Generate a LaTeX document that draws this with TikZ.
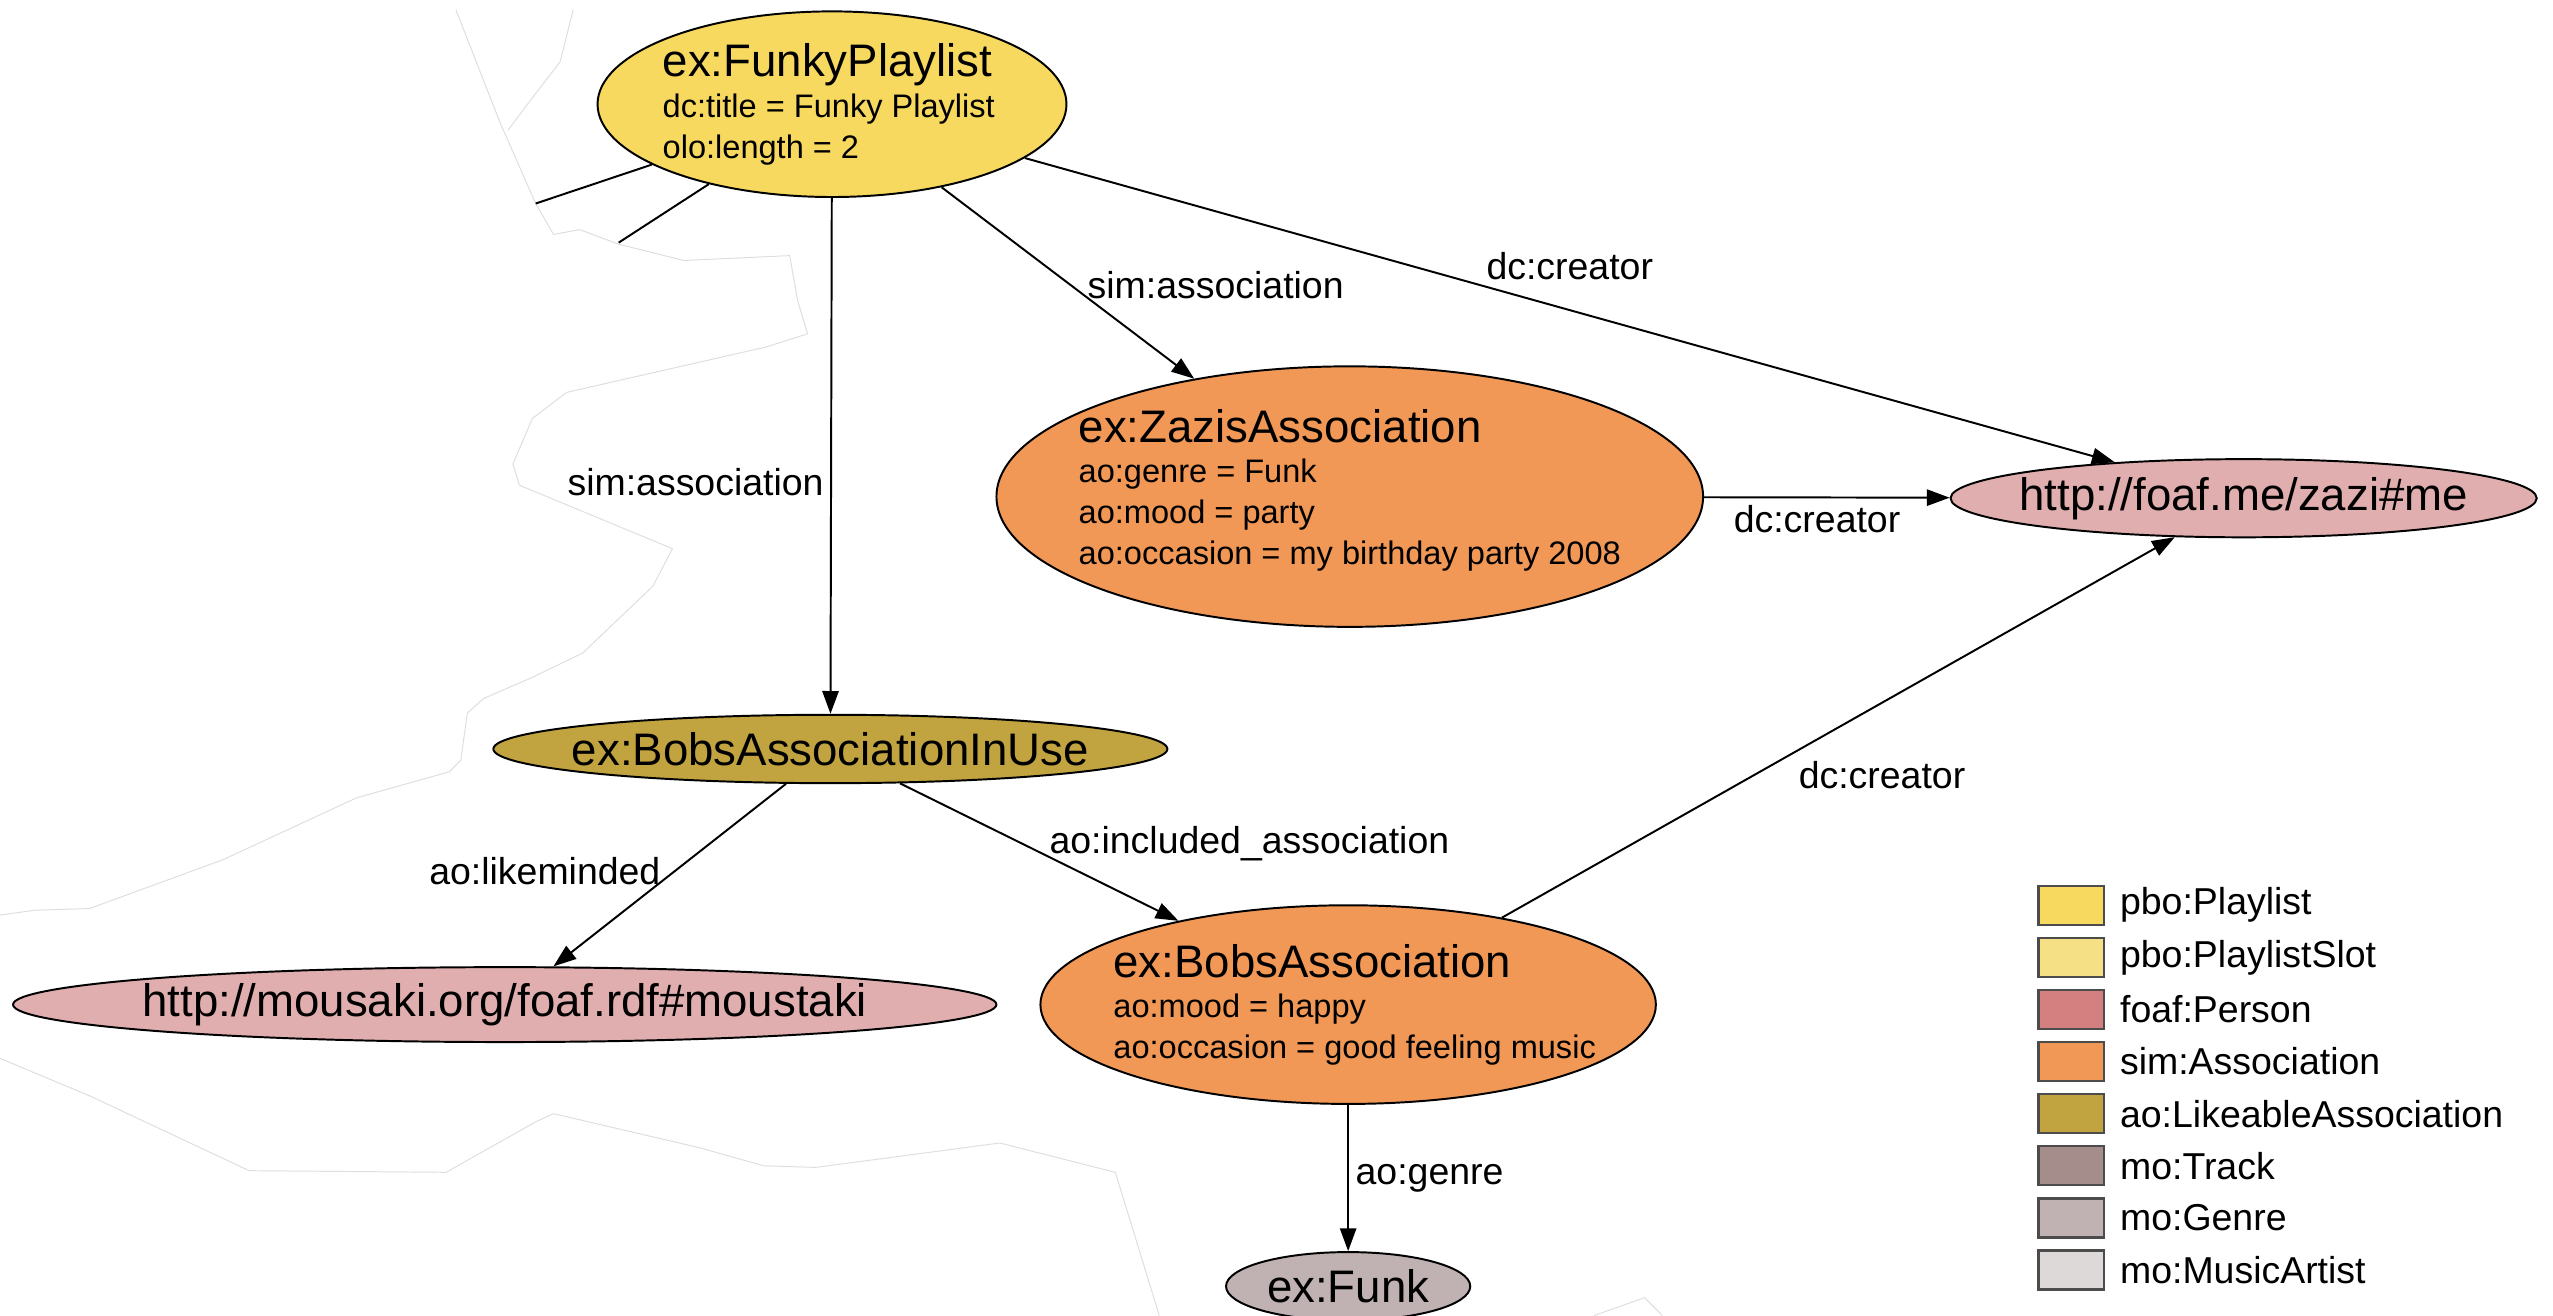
\documentclass[tikz,border=0pt]{standalone}
\usepackage{fontspec}
\setmainfont{Liberation Sans}
\usetikzlibrary{shapes.geometric, arrows.meta, positioning}

\definecolor{playlist}{RGB}{247,217,96}
\definecolor{playlistslot}{RGB}{245,224,134}
\definecolor{person}{RGB}{212,128,128}
\definecolor{personnode}{RGB}{224,174,174}
\definecolor{association}{RGB}{241,152,86}
\definecolor{likeable}{RGB}{193,163,64}
\definecolor{track}{RGB}{164,141,139}
\definecolor{genre}{RGB}{192,178,178}
\definecolor{artist}{RGB}{221,217,217}

\newcommand{\bignodefont}{\fontsize{14}{16}\selectfont}
\newcommand{\attrfont}{\fontsize{10}{12.5}\selectfont}
\newcommand{\edgefont}{\fontsize{11.5}{13}\selectfont}

\begin{document}
\begin{tikzpicture}[x=0.5pt, y=-0.5pt,
		resource/.style={ellipse, draw, line width=0.6pt, inner sep=0pt},
		nodetext/.style={font=\bignodefont, inner sep=0pt},
		attrtext/.style={font=\attrfont, align=left, inner sep=0pt},
		plain/.style={draw, line width=0.6pt},
		link/.style={plain, -{Triangle[length=7pt, width=5pt]}},
		edgelabel/.style={font=\edgefont, inner sep=2pt},
		cutline/.style={draw=black!13, line width=0.3pt},
		legendbox/.style={draw=black!70, line width=0.7pt, minimum width=20pt, minimum height=12pt, inner sep=0pt},
		legendtext/.style={font=\edgefont, inner sep=0pt}]
		\useasboundingbox (0,0) rectangle (1568,808);

		\draw[cutline] (280,6) -- (307,75) -- (329,125) -- (340,144) -- (356,141) -- (380,150) -- (420,160) -- (485,157) -- (490,185) -- (496,205) -- (471,213) -- (348,241) -- (327,257) -- (315,285) -- (319,298) -- (413,337) -- (401,360) -- (358,401) -- (327,416) -- (297,429) -- (287,438) -- (283,467) -- (276,474) -- (219,490) -- (137,528) -- (55,558) -- (22,559) -- (0,562);
		\draw[cutline] (352,6) -- (344,38) -- (327,60) -- (312,80);
		\draw[cutline] (0,650) -- (55,673) -- (153,719) -- (274,720) -- (329,689) -- (340,684) -- (430,705) -- (469,716) -- (501,717) -- (614,702) -- (685,720) -- (712,808);
		\draw[cutline] (979,808) -- (1010,797) -- (1021,808);

		\node[resource, fill=playlist, minimum width=144pt, minimum height=57pt] (funky) at (511,64) {};
		\node[attrtext] (funkytext) at ([xshift=-1pt]funky.center) {{\bignodefont ex:FunkyPlaylist}\\dc:title = Funky Playlist\\olo:length = 2};

		\node[resource, fill=association, minimum width=217pt, minimum height=80pt] (zazis) at (829,305) {};
		\node[attrtext] (zazistext) at ([yshift=2pt]zazis.center) {{\bignodefont ex:ZazisAssociation}\\ao:genre = Funk\\ao:mood = party\\ao:occasion = my birthday party 2008};

		\node[resource, fill=personnode, minimum width=180pt, minimum height=24pt] (zazi) at (1378,306) {};
		\node[nodetext] (zazitext) at (zazi) {http://foaf.me/zazi\#me};

		\node[resource, fill=likeable, minimum width=207pt, minimum height=21pt] (bobsinuse) at (510,460) {};
		\node[nodetext] (bobsinusetext) at (bobsinuse) {ex:BobsAssociationInUse};

		\node[resource, fill=personnode, minimum width=302pt, minimum height=23pt] (moustaki) at (310,617) {};
		\node[nodetext] (moustakitext) at (moustaki) {http://mousaki.org/foaf.rdf\#moustaki};

		\node[resource, fill=association, minimum width=189pt, minimum height=61pt] (bobs) at (828,617) {};
		\node[attrtext] (bobstext) at ([xshift=2pt]bobs.center) {{\bignodefont ex:BobsAssociation}\\ao:mood = happy\\ao:occasion = good feeling music};

		\node[resource, fill=genre, minimum width=75pt, minimum height=21pt] (funk) at (828,790) {};
		\node[nodetext] (funktext) at (funk) {ex:Funk};

		\coordinate (lostA) at (329,125);
		\coordinate (lostB) at (380,149);
		\draw[plain] (funky) -- (lostA);
		\draw[plain] (funky) -- (lostB);

		\draw[link] (funky) -- node[edgelabel, left, pos=0.55] (lblinuse) {sim:association} (bobsinuse);
		\draw[link] (funky) -- node[edgelabel, right=3pt, pos=0.51] (lblzazis) {sim:association} (zazis);
		\draw[link] (funky) -- node[edgelabel, above=7pt, pos=0.5] (lblcreatorA) {dc:creator} (zazi);
		\draw[link] (zazis) -- node[edgelabel, below, pos=0.46] (lblcreatorB) {dc:creator} (zazi);
		\draw[link] (bobs) -- node[edgelabel, anchor=north west, pos=0.43] (lblcreatorC) {dc:creator} (zazi);
		\draw[link] (bobsinuse) -- node[edgelabel, left=2pt, pos=0.48] (lbllike) {ao:likeminded} (moustaki);
		\draw[link] (bobsinuse) -- node[edgelabel, anchor=base west, pos=0.51] (lblincl) {ao:included\_association} (bobs);
		\draw[link] (bobs) -- node[edgelabel, right, pos=0.5] (lblgenre) {ao:genre} (funk);

		\foreach \col/\name [count=\i] in {playlist/pbo:Playlist, playlistslot/pbo:PlaylistSlot, person/foaf:Person, association/sim:Association, likeable/ao:LikeableAssociation, track/mo:Track, genre/mo:Genre, artist/mo:MusicArtist} {
			\node[legendbox, fill=\col] (key\i) at (1272, {524+32*\i}) {};
			\node[legendtext, right=4.5pt of key\i] (keytext\i) {\name};
		}
	\end{tikzpicture}
\end{document}
